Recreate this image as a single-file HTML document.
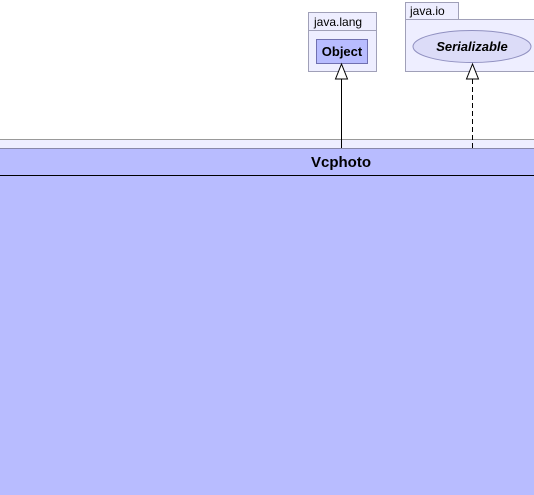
<!DOCTYPE html>
<html><head><style>
body{margin:0;width:534px;height:495px;overflow:hidden;background:#fff;font-family:"Liberation Sans",sans-serif;}
</style></head><body>
<svg width="534" height="495" xmlns="http://www.w3.org/2000/svg" style="position:absolute;left:0;top:0">
<rect x="0" y="139.5" width="540" height="10" fill="#eeeeff"/>
<line x1="0" y1="139.5" x2="534" y2="139.5" stroke="#999"/>
<rect x="0" y="148" width="540" height="347" fill="#b8bcff"/>
<line x1="0" y1="148.5" x2="534" y2="148.5" stroke="#8888aa"/>
<line x1="0" y1="175.5" x2="534" y2="175.5" stroke="#000"/>
<text x="341" y="167" text-anchor="middle" font-size="15" font-weight="bold" fill="#000">Vcphoto</text>
<rect x="308.5" y="12.5" width="68" height="59" fill="#eeeeff" stroke="#a0a0b8"/>
<line x1="308" y1="30.5" x2="377" y2="30.5" stroke="#a0a0b8"/>
<text x="314" y="26" font-size="12" fill="#000">java.lang</text>
<rect x="316.5" y="39.5" width="51" height="24" fill="#b8bcff" stroke="#7070b0"/>
<text x="342" y="56" text-anchor="middle" font-size="13" font-weight="bold">Object</text>
<rect x="405.5" y="2.5" width="53" height="17" fill="#eeeeff" stroke="#a0a0b8"/>
<rect x="405.5" y="19.5" width="140" height="52" fill="#eeeeff" stroke="#a0a0b8"/>
<text x="410" y="15" font-size="12">java.io</text>
<ellipse cx="472" cy="46.5" rx="59" ry="16" fill="#dcdcf8" stroke="#9090c0"/>
<text x="472" y="51" text-anchor="middle" font-size="13" font-weight="bold" font-style="italic">Serializable</text>
<line x1="341.5" y1="79" x2="341.5" y2="148" stroke="#000"/>
<polygon points="341.5,64 335.5,79 347.5,79" fill="#fff" stroke="#000"/>
<line x1="472.5" y1="79" x2="472.5" y2="148" stroke="#000" stroke-dasharray="5,3"/>
<polygon points="472.5,64 466.5,79 478.5,79" fill="#fff" stroke="#000"/>
</svg>
</body></html>
